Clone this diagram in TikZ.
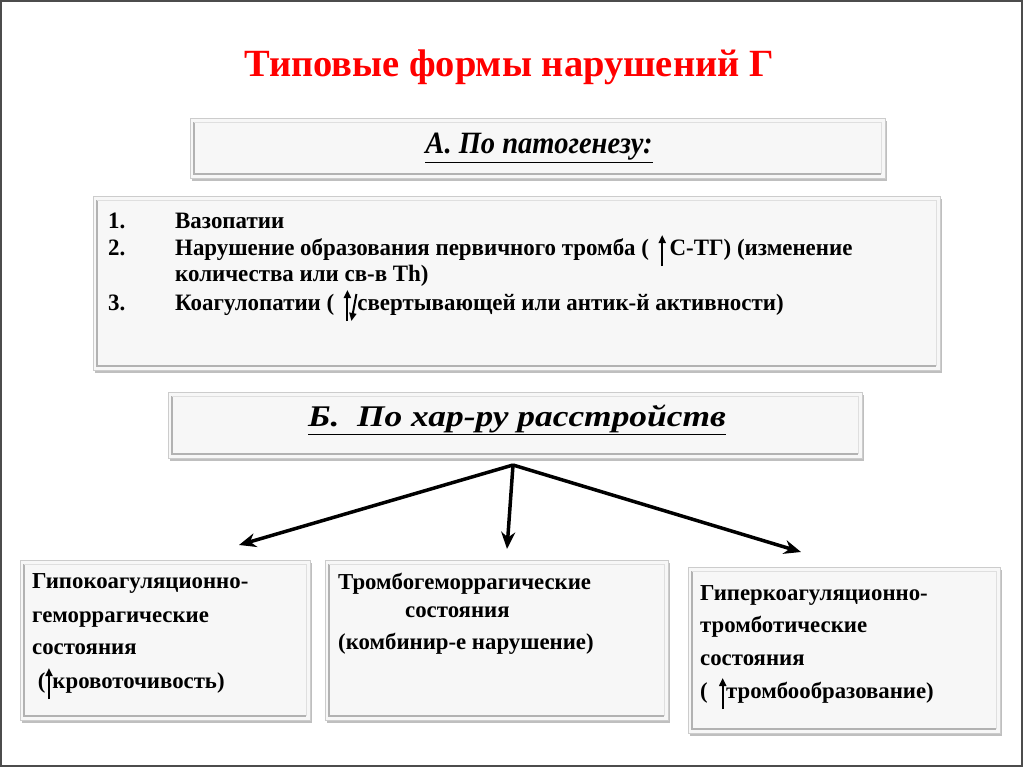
\documentclass[tikz,border=0pt]{standalone}
\usepackage{fontspec}
\setmainfont{Liberation Serif}
\newfontfamily\listserif[FakeStretch=0.975]{Liberation Serif}
\newfontfamily\aserif[FakeStretch=0.92]{Liberation Serif}
\newfontfamily\bserif[FakeStretch=1.18]{Liberation Serif}
\usetikzlibrary{arrows.meta,shadows}
\newcommand\upar{\tikz[baseline=0pt]\draw[line width=2pt,-{Triangle[length=8pt,width=7pt]}](0pt,-11pt)--(0pt,20pt);}
\newcommand\updownar{\tikz[baseline=0pt]{\draw[line width=2pt,-{Triangle[length=8pt,width=7pt]}](0pt,-11pt)--(0pt,20pt);\draw[line width=2pt,-{Triangle[length=8pt,width=7pt]}](9pt,16pt)--(4pt,-11pt);}}
\newcommand\bevelbox[4]{%
  \draw[box] (#1,#2) rectangle (#3,#4);
  \draw[bevel] (#1+4,#2+4) -- (#1+4,#4-4) -- (#3-4,#4-4);
  \draw[bevelhi] (#1+4,#2+4) -- (#3-4,#2+4) -- (#3-4,#4-4);}
\begin{document}
\begin{tikzpicture}[x=1pt,y=-1pt,
  box/.style={draw=gray!40,line width=1pt,fill=gray!6,
    drop shadow={shadow xshift=2pt,shadow yshift=-3pt,opacity=0.5,fill=gray}},
  bevel/.style={draw=gray!60,line width=1.6pt},
  bevelhi/.style={draw=gray!25,line width=1pt},
  txt/.style={anchor=base west,inner sep=0pt},
  listfont/.style={font=\listserif\bfseries\fontsize{23.5}{26}\selectfont},
  bodyfont/.style={font=\bfseries\fontsize{22.8}{26}\selectfont},
  conn/.style={line width=3.5pt,-{Stealth[length=17pt,width=14pt]}}]
\useasboundingbox (0,0) rectangle (1024,768);
\draw[line width=2pt,gray!60!black] (1,1) rectangle (1022,766);

\node[anchor=base,text=red,font=\bfseries\fontsize{38.5}{44}\selectfont,inner sep=0pt] (title) at (509,77) {Типовые формы нарушений Г};

% box A
\bevelbox{190}{118}{885}{178}
\node[font=\aserif\bfseries\itshape\fontsize{31}{36}\selectfont] (tA) at (539,148) {\underline{А. По патогенезу:}};

% box 1
\bevelbox{93}{196}{940}{370}
\node[txt,listfont] (n1) at (108,228) {1.};
\node[txt,listfont] (t1) at (175,228) {Вазопатии};
\node[txt,listfont] (n2) at (108,255) {2.};
\node[txt,listfont] (t2a) at (175,255) {Нарушение образования первичного тромба ( \,\upar\,С-ТГ) (изменение};
\node[txt,listfont] (t2b) at (175,281) {количества или св-в Th)};
\node[txt,listfont] (n3) at (108,310) {3.};
\node[txt,listfont] (t3) at (175,310) {Коагулопатии ( \,\updownar свертывающей или антик-й активности)};

% box B
\bevelbox{168}{392}{862}{458}
\node[font=\bserif\bfseries\itshape\fontsize{30}{34}\selectfont] (tB) at (517,420) {\underline{Б.\ \ По хар-ру расстройств}};

% bottom boxes
\bevelbox{20}{560}{310}{720}
\bevelbox{325}{560}{668}{720}
\bevelbox{688}{567}{1000}{733}

\node[txt,bodyfont] (l1) at (32,588) {Гипокоагуляционно-};
\node[txt,bodyfont] (l2) at (32,622) {геморрагические};
\node[txt,bodyfont] (l3) at (32,654) {состояния};
\node[txt,bodyfont] (l4) at (32,688) {\ (\upar кровоточивость)};

\node[txt,bodyfont] (m1) at (338,589) {Тромбогеморрагические};
\node[txt,bodyfont] (m2) at (405,617) {состояния};
\node[txt,bodyfont] (m3) at (338,649) {(комбинир-е нарушение)};

\node[txt,bodyfont] (r1) at (700,600) {Гиперкоагуляционно-};
\node[txt,bodyfont] (r2) at (700,632) {тромботические};
\node[txt,bodyfont] (r3) at (700,665) {состояния};
\node[txt,bodyfont] (r4) at (700,698) {( \ \upar тромбообразование)};

% connectors
\coordinate (apex) at (513,465);
\coordinate (eL) at (239,545);
\coordinate (eM) at (507,549);
\coordinate (eR) at (801,552);
\draw[conn] (apex) -- (eL);
\draw[conn] (apex) -- (eM);
\draw[conn] (apex) -- (eR);
\end{tikzpicture}
\end{document}
